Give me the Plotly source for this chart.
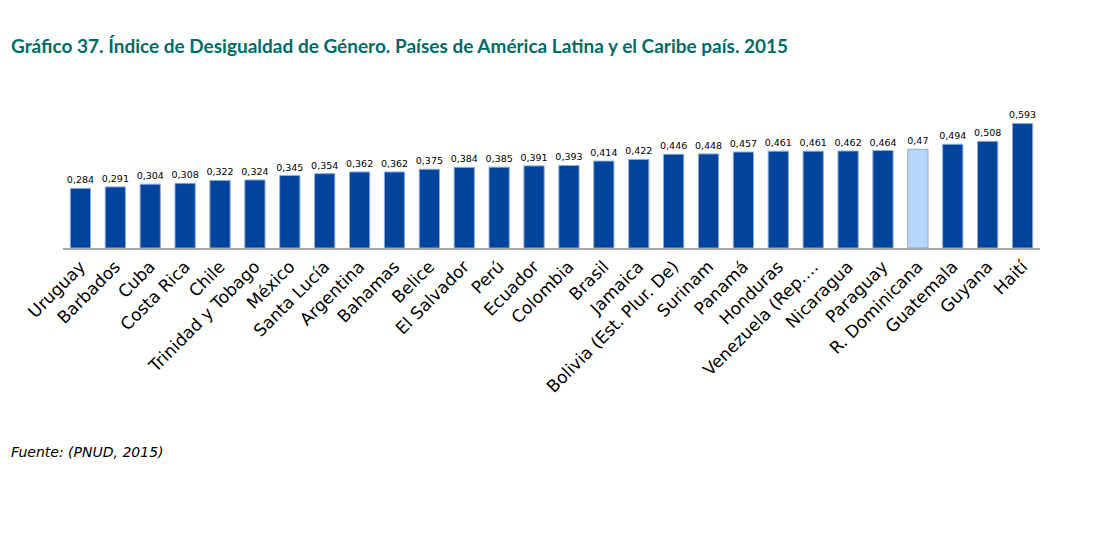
import plotly.graph_objects as go

# Datos del gráfico
paises = [
    "Uruguay", "Barbados", "Cuba", "Costa Rica", "Chile", "Trinidad y Tobago",
    "México", "Santa Lucía", "Argentina", "Bahamas", "Belice", "El Salvador",
    "Perú", "Ecuador", "Colombia", "Brasil", "Jamaica", "Bolivia (Est. Plur. De)",
    "Surinam", "Panamá", "Honduras", "Venezuela (Rep.…", "Nicaragua", "Paraguay",
    "R. Dominicana", "Guatemala", "Guyana", "Haití",
]
idg = [
    0.284, 0.291, 0.304, 0.308, 0.322, 0.324, 0.345, 0.354, 0.362, 0.362,
    0.375, 0.384, 0.385, 0.391, 0.393, 0.414, 0.422, 0.446, 0.448, 0.457,
    0.461, 0.461, 0.462, 0.464, 0.47, 0.494, 0.508, 0.593,
]
resaltado = "R. Dominicana"

colores = ["#b8d6fa" if p == resaltado else "#00449c" for p in paises]
etiquetas = [str(v).replace(".", ",") for v in idg]

# la página tiene 8 px de margen en el body
L, T, B, R = 55, 93, 308, 66
plot_w = 1098 - L - R
plot_h = 548 - T - B

fig = go.Figure()
fig.add_trace(
    go.Bar(
        x=paises,
        y=idg,
        marker=dict(color=colores, line=dict(color="#8fa9d8", width=1)),
        text=etiquetas,
        textposition="outside",
        constraintext="none",
        textfont=dict(size=9.5, color="#000000", family="DejaVu Sans"),
        cliponaxis=False,
        width=0.58,
    )
)

fig.update_layout(
    width=1098,
    height=548,
    margin=dict(l=L, r=R, t=T, b=B),
    plot_bgcolor="white",
    paper_bgcolor="white",
    showlegend=False,
    font=dict(family="DejaVu Sans", color="#000000"),
)

fig.update_xaxes(
    tickangle=-45,
    tickfont=dict(size=17, family="DejaVu Sans", color="#000000"),
    showline=True,
    linecolor="#a6a6a6",
    linewidth=2,
    ticks="",
    showgrid=False,
    automargin=False,
)
fig.update_yaxes(range=[0, 0.7], visible=False, showgrid=False, automargin=False)

fig.add_annotation(
    text="<b>Gráfico 37. Índice de Desigualdad de Género. Países de América Latina y el Caribe país. 2015</b>",
    xref="paper", yref="paper", x=-(L - 1) / plot_w, y=1 + (T - 37) / plot_h,
    xanchor="left", yanchor="middle", showarrow=False,
    font=dict(size=19, color="#006b66", family="Lato"),
)
fig.add_annotation(
    text="<i>Fuente: (PNUD, 2015)</i>",
    xref="paper", yref="paper", x=-(L - 1) / plot_w, y=-(452 - 248) / plot_h,
    xanchor="left", yanchor="middle", showarrow=False,
    font=dict(size=14, color="#000000", family="DejaVu Sans"),
)

fig.write_html("out.html")
